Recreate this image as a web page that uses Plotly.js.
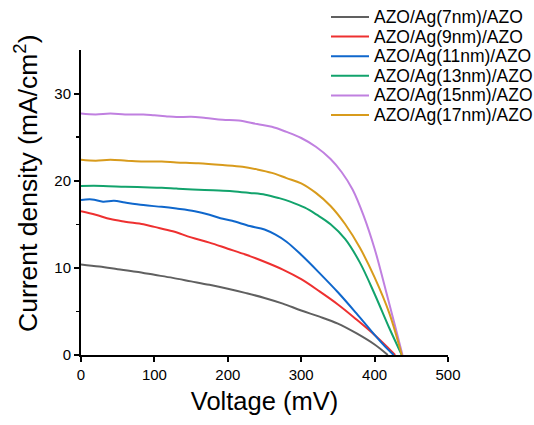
<!DOCTYPE html>
<html>
<head>
<meta charset="utf-8">
<script src="https://cdn.plot.ly/plotly-3.0.1.min.js"></script>
<style>html,body{margin:0;padding:0;background:#fff;}#chart{width:534px;height:425px;}</style>
</head>
<body>
<div id="chart"></div>
<script>
const names = ["AZO/Ag(7nm)/AZO","AZO/Ag(9nm)/AZO","AZO/Ag(11nm)/AZO","AZO/Ag(13nm)/AZO","AZO/Ag(15nm)/AZO","AZO/Ag(17nm)/AZO"];
const colors = ["#606060","#ee3030","#0f67cc","#12a36c","#c080e0","#d89b1c"];

const v7  = [0,25,50,75,100,125,150,175,200,225,250,275,300,325,350,375,400,418];
const j7  = [10.4,10.15,9.85,9.55,9.2,8.85,8.45,8.05,7.6,7.1,6.55,5.9,5.1,4.4,3.6,2.5,1.2,0];

const v9  = [0,20,40,60,85,100,125,150,175,200,225,250,275,300,325,350,375,400,415,428];
const j9  = [16.5,16.1,15.6,15.3,15.0,14.7,14.2,13.5,12.9,12.2,11.5,10.7,9.8,8.7,7.3,5.8,4.1,2.3,1.1,0];

const v11 = [0,15,30,45,60,85,110,130,155,175,190,206,230,250,265,280,300,325,350,375,400,415,426];
const j11 = [17.8,17.85,17.6,17.7,17.5,17.2,17.0,16.8,16.5,16.1,15.7,15.4,14.8,14.4,13.8,13.0,11.5,9.4,7.2,4.8,2.3,0.9,0];

const v13 = [0,30,60,85,110,130,152,180,206,230,251,270,285,305,321,340,360,380,400,420,437];
const j13 = [19.4,19.4,19.3,19.25,19.2,19.1,19.0,18.9,18.8,18.6,18.4,18.0,17.6,16.9,16.1,15.0,13.3,10.6,7.0,3.1,0];

const v15 = [0,20,40,60,85,100,115,130,150,170,193,215,240,260,280,300,320,340,355,370,385,400,415,428,438];
const j15 = [27.7,27.6,27.7,27.6,27.6,27.5,27.4,27.3,27.35,27.2,27.0,26.9,26.5,26.2,25.6,24.9,23.9,22.5,21.0,19.0,16.0,12.2,7.5,3.3,0];

const v17 = [0,20,40,62,85,110,130,160,193,220,240,260,280,300,320,340,360,380,400,420,437];
const j17 = [22.4,22.3,22.4,22.3,22.2,22.2,22.1,22.0,21.8,21.6,21.3,20.9,20.3,19.7,18.6,17.1,15.0,12.3,8.9,4.8,0];

const xs = [v7,v9,v11,v13,v15,v17];
const ys = [j7,j9,j11,j13,j15,j17];

const xTicks = [0,100,200,300,400,500];
const yTicks = [0,10,20,30];
const xTitle = 'Voltage (mV)';
const yTitle = 'Current density (mA/cm<sup>2</sup>)';

const traces = names.map((n,i)=>({
  x: xs[i], y: ys[i], name: n, type: 'scatter', mode: 'lines',
  line: {color: colors[i], width: 2, shape: 'spline', smoothing: 1.0}
}));

const font = "Liberation Sans, Arial, sans-serif";
const W = 534, H = 425, ML = 81, MR = 86, MT = 50, MB = 70;
const PW = W - ML - MR, PH = H - MT - MB;
const px2x = p => (p - ML) / PW;
const py2y = p => (H - MB - p) / PH;

// custom legend (line sample + text) built from names/colors
const legTop = 17, legStep = 19.6, legX0 = 331, legX1 = 369, legTx = 372;
const shapes = names.map((n,i)=>({
  type: 'line', xref: 'paper', yref: 'paper',
  x0: px2x(legX0), x1: px2x(legX1), y0: py2y(legTop + i*legStep), y1: py2y(legTop + i*legStep),
  line: {color: colors[i], width: 2}
}));
const annotations = names.map((n,i)=>({
  text: n, xref: 'paper', yref: 'paper', x: px2x(legTx), y: py2y(legTop + i*legStep),
  xanchor: 'left', yanchor: 'middle', showarrow: false,
  font: {family: font, size: 17.5, color: '#000'}
}));
annotations.push({
  text: yTitle, xref: 'paper', yref: 'paper', x: px2x(26), y: py2y(184),
  xanchor: 'center', yanchor: 'middle', textangle: -90, showarrow: false,
  font: {family: font, size: 26.5, color: '#000'}
});

const layout = {
  width: W, height: H,
  margin: {l: ML, r: MR, t: MT, b: MB},
  paper_bgcolor: '#fff', plot_bgcolor: '#fff',
  font: {family: font, color: '#000', size: 15},
  showlegend: false,
  shapes: shapes, annotations: annotations,
  xaxis: {
    range: [0, 500], tickvals: xTicks, ticktext: xTicks.map(String),
    showgrid: false, zeroline: false, showline: true, linecolor: '#000', linewidth: 2,
    ticks: 'outside', ticklen: 5, tickwidth: 2, tickcolor: '#000',
    tickfont: {family: font, size: 15},
    title: {text: xTitle, font: {family: font, size: 25.5}, standoff: 10}
  },
  yaxis: {
    range: [0, 35], tickvals: yTicks, ticktext: yTicks.map(String),
    showgrid: false, zeroline: false, showline: true, linecolor: '#000', linewidth: 2,
    ticks: 'outside', ticklen: 5, tickwidth: 2, tickcolor: '#000',
    minor: {tickvals: [5,15,25], ticks: 'outside', ticklen: 3, tickwidth: 1.5, tickcolor: '#000', showgrid: false},
    tickfont: {family: font, size: 15}
  }
};
Plotly.newPlot('chart', traces, layout, {displayModeBar: false, staticPlot: true});
</script>
</body>
</html>
